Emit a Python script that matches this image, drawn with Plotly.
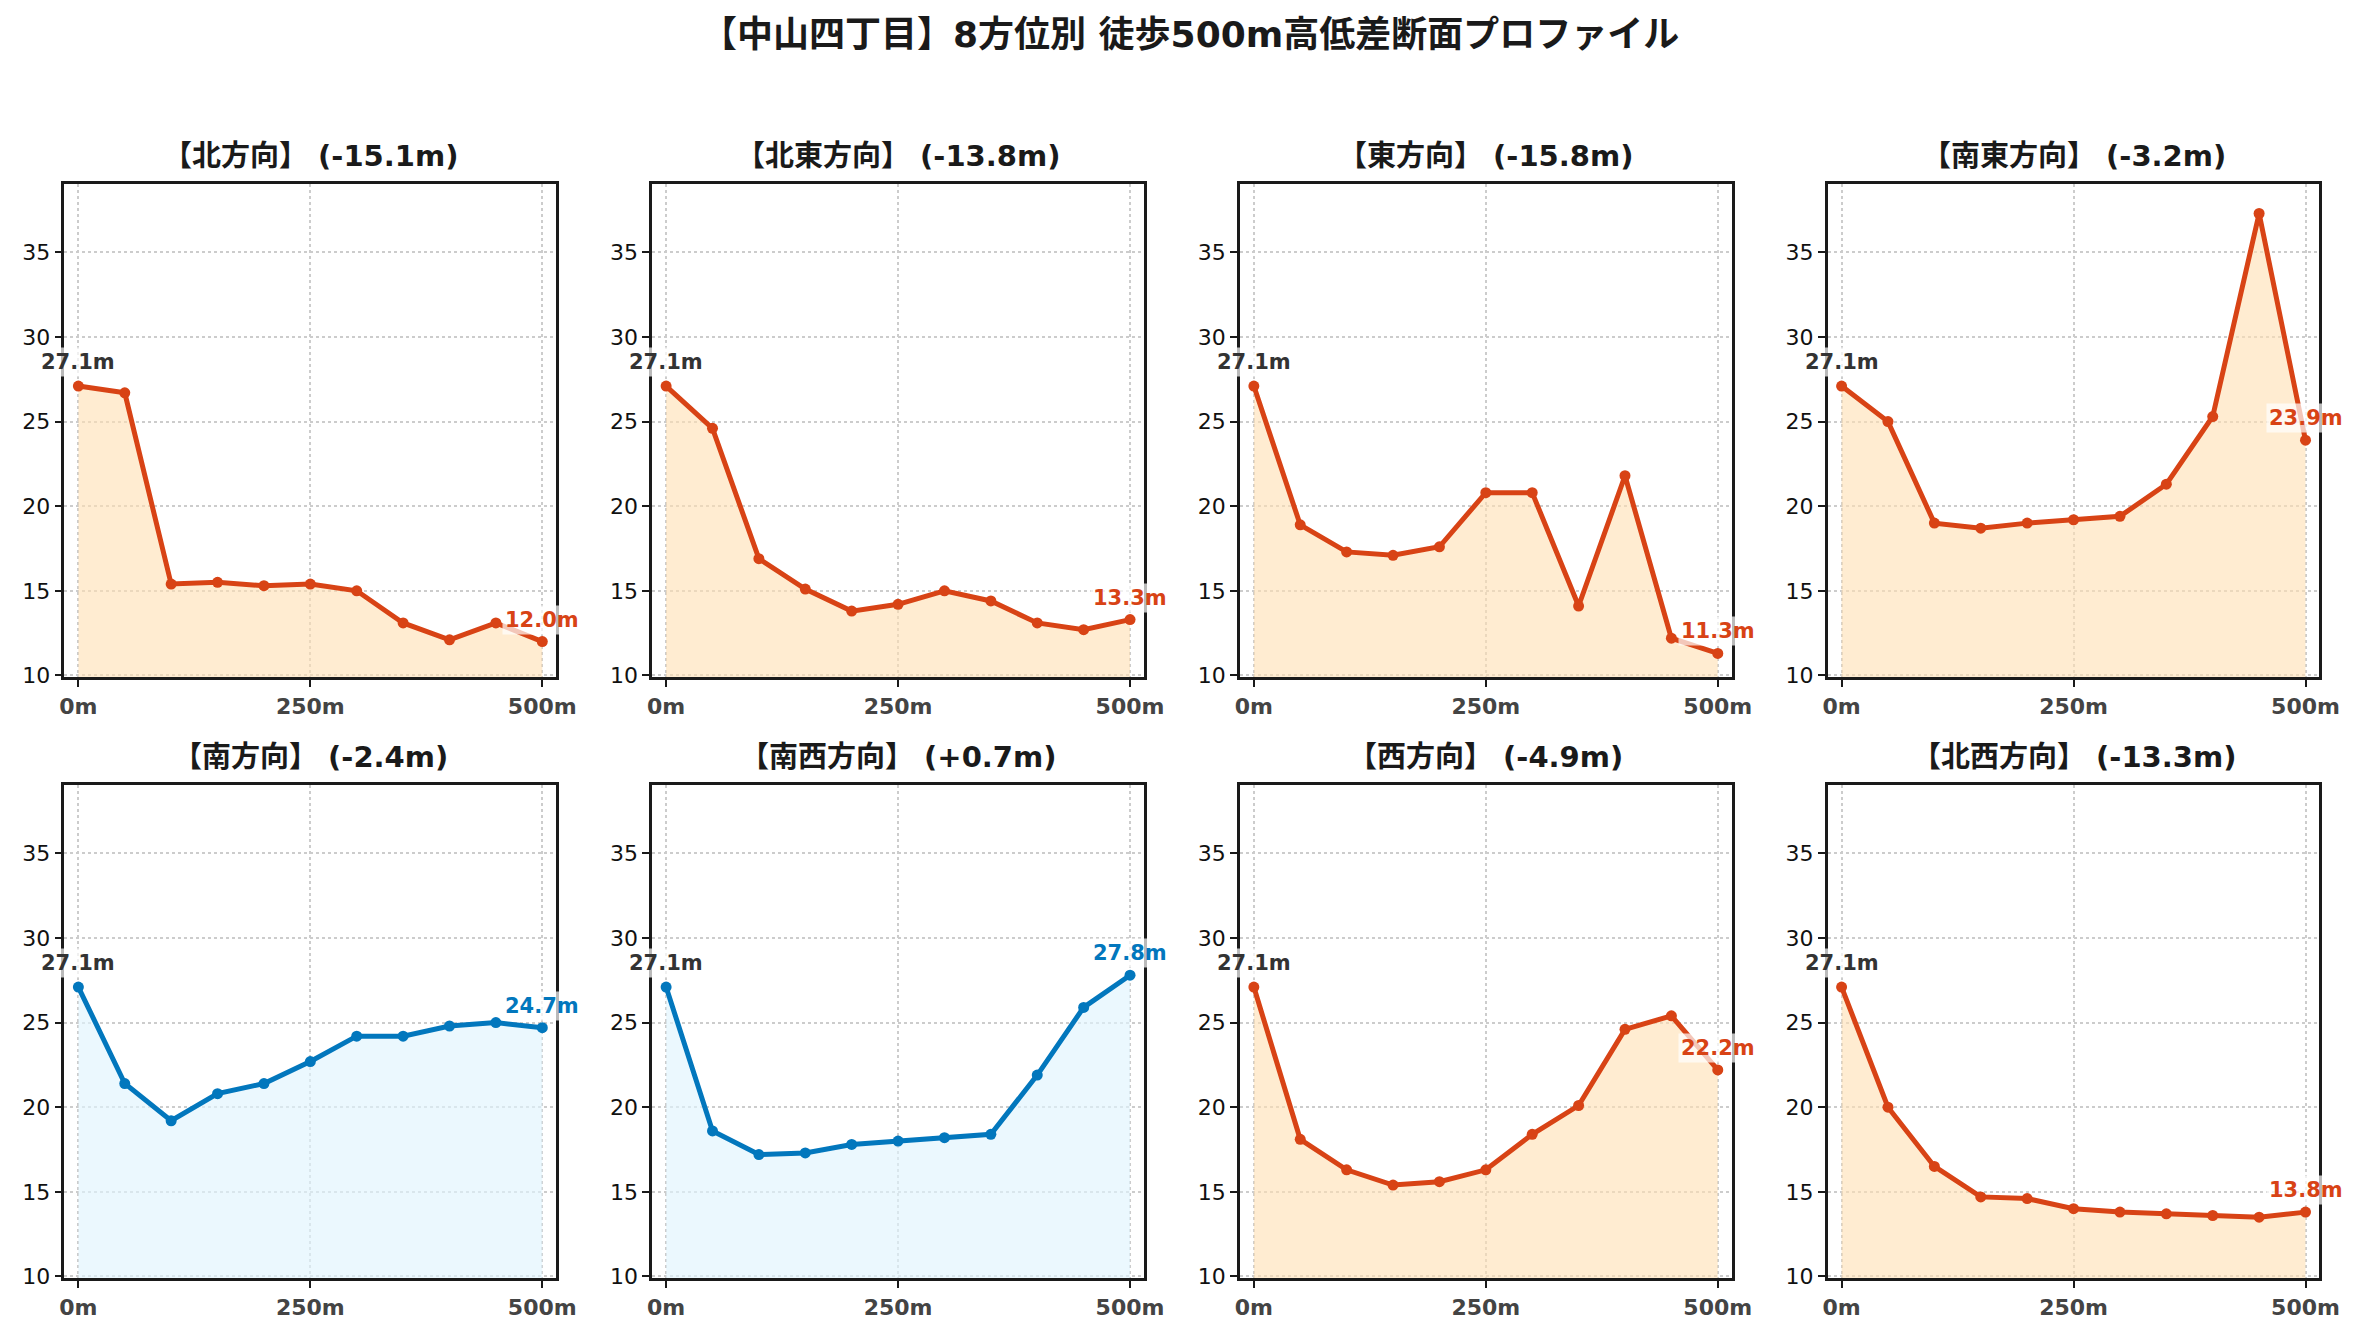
import plotly.graph_objects as go

# ---- data ----
distances = [0, 50, 100, 150, 200, 250, 300, 350, 400, 450, 500]
directions = ["北方向", "北東方向", "東方向", "南東方向", "南方向", "南西方向", "西方向", "北西方向"]
elev_north = [27.1, 26.7, 15.4, 15.5, 15.3, 15.4, 15.0, 13.1, 12.1, 13.1, 12.0]
elev_northeast = [27.1, 24.6, 16.9, 15.1, 13.8, 14.2, 15.0, 14.4, 13.1, 12.7, 13.3]
elev_east = [27.1, 18.9, 17.3, 17.1, 17.6, 20.8, 20.8, 14.1, 21.8, 12.2, 11.3]
elev_southeast = [27.1, 25.0, 19.0, 18.7, 19.0, 19.2, 19.4, 21.3, 25.3, 37.3, 23.9]
elev_south = [27.1, 21.4, 19.2, 20.8, 21.4, 22.7, 24.2, 24.2, 24.8, 25.0, 24.7]
elev_southwest = [27.1, 18.6, 17.2, 17.3, 17.8, 18.0, 18.2, 18.4, 21.9, 25.9, 27.8]
elev_west = [27.1, 18.1, 16.3, 15.4, 15.6, 16.3, 18.4, 20.1, 24.6, 25.4, 22.2]
elev_northwest = [27.1, 20.0, 16.5, 14.7, 14.6, 14.0, 13.8, 13.7, 13.6, 13.5, 13.8]
series = [elev_north, elev_northeast, elev_east, elev_southeast,
          elev_south, elev_southwest, elev_west, elev_northwest]
x_tickvals = [0, 250, 500]
x_ticktext = ["0m", "250m", "500m"]
y_tickvals = [10, 15, 20, 25, 30, 35]
main_title = "【中山四丁目】8方位別 徒歩500m高低差断面プロファイル"

# ---- style ----
OFFX, OFFY = 8, 6  # page body offset
W, H = 2380 - OFFX, 1340 - OFFY
FONT = "DejaVu Sans, Noto Sans CJK JP, sans-serif"
ORANGE = "#D84315"
ORANGE_FILL = "rgba(255,224,178,0.6)"
BLUE = "#0277BD"
BLUE_FILL = "rgba(225,245,254,0.65)"

col_left = [60 - OFFX, 654 - OFFX, 1248 - OFFX, 1842 - OFFX]
col_w = 497
row_top = [183 - OFFY, 789 - OFFY]
row_h = 498

fig = go.Figure()
annotations = []

for i, (name, vals) in enumerate(zip(directions, series)):
    r, c = divmod(i, 4)
    n = i + 1
    xa = "x" if n == 1 else f"x{n}"
    ya = "y" if n == 1 else f"y{n}"
    diff = vals[-1] - vals[0]
    line_col = BLUE if diff > -3.0 else ORANGE
    fill_col = BLUE_FILL if diff > -3.0 else ORANGE_FILL

    fig.add_trace(go.Scatter(
        x=distances, y=vals, mode="lines+markers",
        line=dict(color=line_col, width=5),
        marker=dict(color=line_col, size=11),
        fill="tozeroy", fillcolor=fill_col,
        xaxis=xa, yaxis=ya, showlegend=False, hoverinfo="skip"))

    x0 = col_left[c] / W
    x1 = (col_left[c] + col_w) / W
    y1 = 1 - row_top[r] / H
    y0 = 1 - (row_top[r] + row_h) / H
    axis_common = dict(
        showline=True, mirror=True, linecolor="#1a1a1a", linewidth=2.5,
        ticks="outside", ticklen=7, tickwidth=2, tickcolor="#1a1a1a",
        showgrid=True, gridcolor="#cccccc", griddash="dot", gridwidth=1.5,
        zeroline=False,
    )
    fig.update_layout({
        f"xaxis{'' if n == 1 else n}": dict(
            domain=[x0, x1], anchor=ya, range=[-15, 515],
            tickvals=x_tickvals, ticktext=x_ticktext,
            tickfont=dict(family=FONT, size=22, color="#444444", weight="bold"),
            **axis_common),
        f"yaxis{'' if n == 1 else n}": dict(
            domain=[y0, y1], anchor=xa, range=[9.88, 39.07],
            tickvals=y_tickvals,
            tickfont=dict(family=FONT, size=22, color="#111111"),
            **axis_common),
    })

    sign = "+" if diff >= 0 else "-"
    annotations.append(dict(
        text=f"【{name}】 ({sign}{abs(diff):.1f}m)",
        xref="paper", yref="paper",
        x=(col_left[c] + col_w / 2) / W, y=1 - (row_top[r] - 28) / H,
        xanchor="center", yanchor="middle", showarrow=False,
        font=dict(family=FONT, size=29, color="#1a1a1a", weight="bold")))
    annotations.append(dict(
        text=f"{vals[0]:.1f}m", xref=xa, yref=ya, x=distances[0], y=vals[0],
        xanchor="center", yanchor="middle", yshift=24, showarrow=False,
        bgcolor="rgba(255,255,255,0.7)", borderpad=2,
        font=dict(family=FONT, size=21, color="#333333", weight="bold")))
    annotations.append(dict(
        text=f"{vals[-1]:.1f}m", xref=xa, yref=ya, x=distances[-1], y=vals[-1],
        xanchor="center", yanchor="middle", yshift=22, showarrow=False,
        bgcolor="rgba(255,255,255,0.7)", borderpad=2,
        font=dict(family=FONT, size=21, color=line_col, weight="bold")))

annotations.append(dict(
    text=main_title, xref="paper", yref="paper", x=(1198 - OFFX) / W, y=1 - (33 - OFFY) / H,
    xanchor="center", yanchor="middle", showarrow=False,
    font=dict(family=FONT, size=36, color="#1a1a1a", weight="bold")))

fig.update_layout(
    width=W, height=H, margin=dict(l=0, r=0, t=0, b=0),
    paper_bgcolor="white", plot_bgcolor="white",
    annotations=annotations, showlegend=False,
    font=dict(family=FONT),
)

fig.write_html("out.html")
